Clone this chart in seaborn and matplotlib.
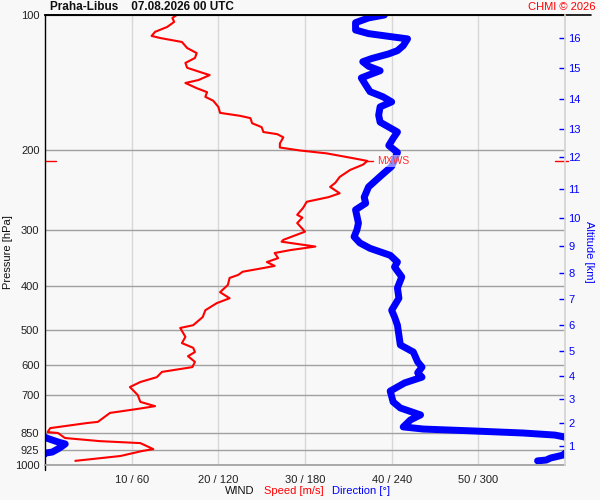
import numpy as np
import matplotlib
matplotlib.use('Agg')
import matplotlib.pyplot as plt
from matplotlib.ticker import NullLocator
import seaborn as sns

# wind speed profile (hPa, m/s)
speed_pres = [100, 101.5, 103.6, 106.3, 109, 111.3, 112.5, 114.8, 118.4, 121.5, 124.6, 127.8,
              131, 133.9, 136, 139.5, 141.6, 145.4, 148.4, 152, 155, 160, 165, 167.5, 169.5,
              174, 177.5, 182, 184, 187, 193, 197, 200, 203, 208, 211, 215, 221, 229, 236,
              241, 249, 254, 260, 268, 278, 282, 290, 303, 316, 319, 327, 333, 338, 347, 354,
              361, 365, 372, 378, 384, 398, 413, 426, 437, 453, 469, 489, 496, 519, 536, 549,
              561, 573, 590, 606, 621, 638, 654, 671, 699, 724, 740, 751, 766, 802, 807, 828,
              845, 849, 871, 885, 894, 922, 931, 955, 979]
speed = [15.2, 14.7, 14.9, 14.1, 12.7, 12.3, 13.3, 15.8, 16.4, 17.5, 17.3, 16.2,
         16.4, 17.9, 19.0, 17.7, 16.2, 17.5, 18.7, 18.5, 19.4, 20.0, 20.2, 22.5, 23.7,
         23.9, 25.0, 25.2, 26.8, 27.5, 27.1, 27.1, 29.4, 32.5, 35.5, 37.2, 36.7, 35.2, 34.0, 33.5,
         32.9, 34.0, 32.7, 30.2, 29.8, 29.1, 29.7, 29.1, 30.0, 27.5, 27.3, 31.2, 28.3, 26.5, 26.9, 25.6,
         26.5, 25.2, 22.8, 22.3, 21.3, 21.1, 20.2, 21.3, 19.8, 18.5, 18.2, 17.1, 15.6, 16.2, 15.8, 17.1,
         17.3, 16.5, 17.3, 17.0, 13.5, 12.9, 11.0, 9.8, 10.7, 11.0, 12.7, 10.6, 7.5, 6.1, 4.8, 0.6,
         0.3, 1.5, 2.3, 6.3, 11.0, 12.5, 11.2, 8.7, 3.5]

# wind direction profile (hPa, degrees)
dir_pres = [100, 101.5, 104, 108, 110, 112, 113, 117, 120, 122, 125, 127, 130, 133, 136, 138,
            143, 148, 152, 156, 160, 167, 173, 182, 188, 195, 202, 210, 217, 227, 241, 254,
            262, 271, 290, 300, 311, 321, 330, 342, 354, 363, 382, 404, 426, 453, 469, 489,
            541, 561, 590, 606, 624, 638, 657, 685, 724, 747, 774, 794, 823, 832, 840, 849,
            858, 867, 871, 889, 898, 917, 936, 941, 950, 965, 975, 979]
direction = [235, 224, 215, 215, 224, 242, 251, 248, 244, 238, 226, 220, 224, 232, 224, 219,
             222, 225, 234, 240, 232, 231, 232, 244, 241, 238, 244, 242, 240, 233, 224, 221,
             222, 215, 217, 216, 214, 218, 225, 239, 244, 242, 247, 244, 245, 240, 242, 244,
             246, 255, 258, 261, 258, 261, 249, 239, 241, 246, 260, 253, 248, 262, 296, 331,
             353, 360, 1, 9, 14, 10, 5, 0, 359, 350, 347, 341]

# axes ticks
p_ticks = [100, 200, 300, 400, 500, 600, 700, 850, 925, 1000]
x_ticks = [10, 20, 30, 40, 50]
x_labels = ['10 / 60', '20 / 120', '30 / 180', '40 / 240', '50 / 300']
alt_km = [1, 2, 3, 4, 5, 6, 7, 8, 9, 10, 11, 12, 13, 14, 15, 16]
alt_pres = [908, 808, 715, 634, 557, 489, 428, 374, 326, 283, 243, 207, 179, 153.6, 131.4, 112.7]

bg = '#f8f8f8'
blue = '#0000ff'
red = '#ff0000'

sns.set_theme(style='white')
plt.rcParams['font.family'] = ['Liberation Sans', 'DejaVu Sans']

fig = plt.figure(figsize=(6, 5), dpi=100, facecolor=bg)
ax = fig.add_axes([45 / 600, 35 / 500, 520 / 600, 450 / 500])
ax.set_facecolor(bg)

# direction drawn on the speed axis (360 deg = 60 m/s), wrapped around north
dir_unw = np.unwrap(np.array(direction, dtype=float), period=360)
for shift in (0, -360):
    sns.lineplot(x=(dir_unw + shift) / 6.0, y=dir_pres, sort=False, estimator=None,
                 color=blue, linewidth=5, solid_joinstyle='round', solid_capstyle='round', ax=ax)
sns.lineplot(x=speed, y=speed_pres, sort=False, estimator=None,
             color=red, linewidth=1.5, solid_joinstyle='round', ax=ax)

ax.set_yscale('log')
ax.set_ylim(1000, 100)
ax.set_xlim(0, 60)
ax.set_yticks(p_ticks)
ax.set_yticklabels([str(p) for p in p_ticks])
ax.yaxis.set_minor_locator(NullLocator())
ax.set_xticks(x_ticks)
ax.set_xticklabels(x_labels)
ax.set_xlabel('')
ax.set_ylabel('')
ax.tick_params(axis='both', length=0, labelsize=8, colors='#202020')
ax.tick_params(axis='x', pad=7)
ax.tick_params(axis='y', pad=4)
ax.grid(axis='y', color='#a0a0a0', lw=1)
ax.grid(axis='x', color='#d8d8d8', lw=1)
ax.set_axisbelow(True)

ax.spines['left'].set_color('black')
ax.spines['left'].set_linewidth(1)
ax.spines['top'].set_color('black')
ax.spines['top'].set_linewidth(1.2)
ax.spines['bottom'].set_color('#a0a0a0')
ax.spines['right'].set_visible(False)
ax.plot([0, 546 / 520], [1, 1], transform=ax.transAxes, clip_on=False, color='black', lw=1.2)
ax.plot([0, 0], [0, -0.012], transform=ax.transAxes, clip_on=False, color='black', lw=1)

# altitude axis
ax2 = ax.twinx()
ax2.set_yscale('log')
ax2.set_ylim(1000, 100)
ax2.set_yticks(alt_pres)
ax2.set_yticklabels([str(a) for a in alt_km])
ax2.yaxis.set_minor_locator(NullLocator())
ax2.tick_params(axis='y', direction='in', length=4.5, width=1, color=blue,
                labelcolor=blue, labelsize=8, pad=2.5)
ax2.grid(False)
for s in ('left', 'top', 'bottom'):
    ax2.spines[s].set_visible(False)
ax2.spines['right'].set_color('#d4d4d4')

# max wind marker
imax = int(np.argmax(speed))
pm, sm = speed_pres[imax], speed[imax]
yt = ax.get_yaxis_transform()
ax.plot([0, 0.022], [pm, pm], transform=yt, color=red, lw=1, clip_on=False)
ax.plot([0.981, 1.006], [pm, pm], transform=yt, color=red, lw=1, clip_on=False)
ax.plot([sm, sm + 0.7], [pm, pm], color=red, lw=1)
ax.text(sm + 1.1, pm, 'MXWS', color='#ff3030', fontsize=7.5, va='center', zorder=5,
        bbox=dict(fc='white', alpha=0.55, ec='none', pad=0.5))

# texts
fig.text(50 / 600, 1 - 7 / 500, 'Praha-Libus    07.08.2026 00 UTC', fontsize=8.5,
         weight='bold', va='center', color='#101010')
fig.text(595 / 600, 1 - 7 / 500, 'CHMI © 2026', fontsize=8, color=red, ha='right', va='center')
fig.text(225 / 600, 1 - 491 / 500, 'WIND', fontsize=8, color='#101010', va='center')
fig.text(264 / 600, 1 - 491 / 500, 'Speed [m/s]', fontsize=8, color=red, va='center')
fig.text(332 / 600, 1 - 491 / 500, 'Direction [°]', fontsize=8, color=blue, va='center')
fig.text(8 / 600, 0.496, 'Pressure [hPa]', fontsize=8, rotation=90, va='center', ha='center',
         color='#101010')
fig.text(589 / 600, 0.496, 'Altitude [km]', fontsize=8, rotation=270, va='center', ha='center',
         color=blue)

fig.savefig('out.png', dpi=100, facecolor=bg)
